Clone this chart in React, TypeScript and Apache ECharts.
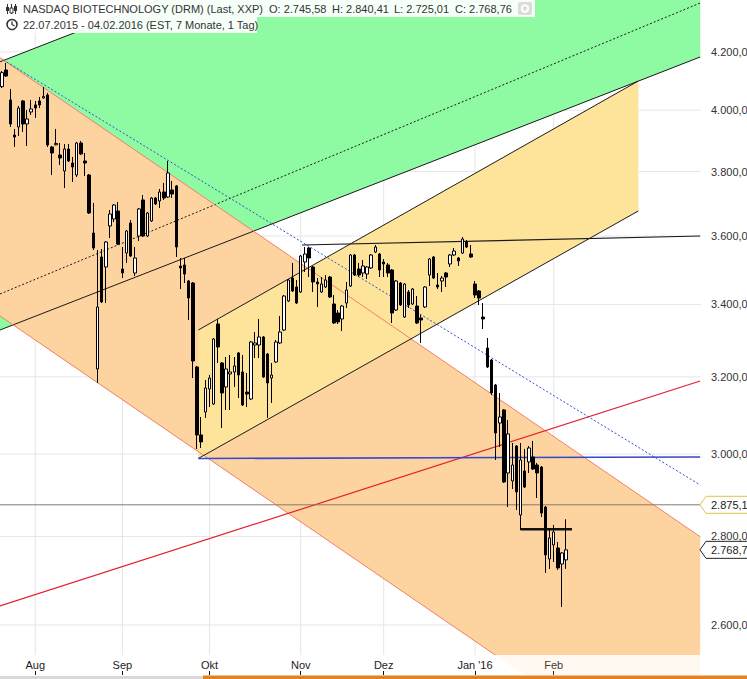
import React, { useEffect, useRef } from "react";
import * as echarts from "echarts";

const FONT = "'Liberation Sans', Arial, Helvetica, sans-serif";

// ---- time axis (trading days) ----
const tradingDays: [string, number[]][] = [
  ["2015-07", [22, 23, 24, 27, 28, 29, 30, 31]],
  ["2015-08", [3, 4, 5, 6, 7, 10, 11, 12, 13, 14, 17, 18, 19, 20, 21, 24, 25, 26, 27, 28, 31]],
  ["2015-09", [1, 2, 3, 4, 8, 9, 10, 11, 14, 15, 16, 17, 18, 21, 22, 23, 24, 25, 28, 29, 30]],
  ["2015-10", [1, 2, 5, 6, 7, 8, 9, 12, 13, 14, 15, 16, 19, 20, 21, 22, 23, 26, 27, 28, 29, 30]],
  ["2015-11", [2, 3, 4, 5, 6, 9, 10, 11, 12, 13, 16, 17, 18, 19, 20, 23, 24, 25, 27, 30]],
  ["2015-12", [1, 2, 3, 4, 7, 8, 9, 10, 11, 14, 15, 16, 17, 18, 21, 22, 23, 24, 28, 29, 30, 31]],
  ["2016-01", [4, 5, 6, 7, 8, 11, 12, 13, 14, 15, 19, 20, 21, 22, 25, 26, 27, 28, 29]],
  ["2016-02", [1, 2, 3, 4]],
];
const futureDays: [string, number[]][] = [
  ["2016-02", [5, 8, 9, 10, 11, 12, 16, 17, 18, 19, 22, 23, 24, 25, 26, 29]],
  ["2016-03", [1, 2, 3, 4, 7, 8, 9, 10, 11, 14, 15, 16, 17, 18, 21, 22]],
];
const monthLabels: [string, string][] = [
  ["2015-08", "Aug"],
  ["2015-09", "Sep"],
  ["2015-10", "Okt"],
  ["2015-11", "Nov"],
  ["2015-12", "Dez"],
  ["2016-01", "Jan '16"],
  ["2016-02", "Feb"],
];

// ---- OHLC ----
const opens = [
  4079.7, 4137.0, 4034.5, 3918.0, 3944.3, 4031.1, 3954.3, 3994.1, 4017.7, 4031.1,
  4041.2, 4051.4, 3878.8, 3886.0, 3852.9, 3801.6, 3872.3, 3827.2, 3788.9, 3891.8,
  3833.6, 3788.9, 3609.4, 3221.2, 3537.6, 3508.2, 3630.7, 3652.0, 3676.5, 3502.3,
  3549.5, 3639.8, 3490.6, 3600.3, 3710.5, 3600.3, 3645.9, 3716.7, 3707.4, 3735.5,
  3719.8, 3741.7, 3754.3, 3511.1, 3514.1, 3467.3, 3461.5, 3226.6, 3048.2, 3107.3,
  3167.6, 3128.2, 3344.8, 3237.4, 3173.0, 3207.8, 3213.1, 3264.6, 3213.1, 3159.7,
  3141.3, 3286.5, 3286.5, 3308.6, 3261.8, 3196.9, 3240.1, 3292.0, 3328.0, 3409.7,
  3476.0, 3450.0, 3435.5, 3522.9, 3564.4, 3508.2, 3464.4, 3435.5, 3450.0, 3478.9,
  3401.2, 3375.7, 3358.8, 3404.0, 3452.9, 3543.6, 3502.3, 3490.6, 3487.7, 3505.3,
  3552.5, 3546.5, 3522.9, 3514.1, 3499.4, 3384.2, 3461.5, 3364.4, 3435.5, 3401.2,
  3395.5, 3361.6, 3392.7, 3484.7, 3537.6, 3455.8, 3467.3, 3490.6, 3517.1, 3543.6,
  3534.7, 3549.5, 3582.3, 3546.5, 3458.6, 3438.4, 3364.4, 3278.2, 3245.5, 3178.3,
  3078.8, 3112.5, 2952.6, 2933.0, 3020.1, 2850.7, 2957.6, 2980.0, 2992.5, 2972.5,
  2967.5, 2869.8, 2747.7, 2780.1, 2773.1, 2736.2, 2745.58,
];
const highs = [
  4133.6, 4161.4, 4071.8, 3937.7, 4014.3, 4034.5, 4000.8, 4034.5, 4031.1, 4044.6,
  4078.6, 4058.2, 3882.1, 3937.7, 3891.8, 3888.4, 3888.4, 3846.5, 3895.1, 3898.3,
  3859.4, 3792.1, 3701.2, 3558.4, 3561.4, 3585.3, 3679.6, 3698.1, 3704.3, 3567.3,
  3618.5, 3648.9, 3567.3, 3685.8, 3726.1, 3673.4, 3719.8, 3719.8, 3744.8, 3763.9,
  3833.6, 3770.0, 3757.4, 3534.7, 3534.7, 3470.2, 3464.4, 3229.3, 3094.4, 3191.6,
  3205.0, 3305.8, 3358.8, 3240.1, 3253.6, 3259.1, 3253.6, 3267.3, 3259.1, 3210.4,
  3297.6, 3322.4, 3358.8, 3311.3, 3264.6, 3237.4, 3300.3, 3367.3, 3426.9, 3473.1,
  3520.0, 3470.2, 3543.6, 3567.3, 3567.3, 3511.1, 3476.0, 3478.9, 3484.7, 3481.8,
  3426.9, 3384.2, 3398.4, 3464.4, 3546.5, 3546.5, 3520.0, 3528.8, 3511.1, 3546.5,
  3573.3, 3549.5, 3531.7, 3520.0, 3502.3, 3470.2, 3464.4, 3461.5, 3441.3, 3447.1,
  3424.0, 3370.1, 3452.9, 3534.7, 3540.6, 3490.6, 3481.8, 3493.5, 3546.5, 3564.4,
  3537.6, 3597.3, 3588.3, 3573.3, 3467.3, 3441.3, 3404.0, 3305.8, 3248.2, 3181.0,
  3157.1, 3115.1, 3086.6, 3027.8, 3022.6, 3027.8, 3012.6, 3020.1, 3032.9, 2977.5,
  2970.0, 2872.2, 2817.5, 2827.0, 2787.0, 2763.8, 2840.41,
];
const lows = [
  4075.2, 4112.9, 3944.3, 3878.8, 3914.7, 3927.8, 3882.1, 3984.1, 3974.1, 4007.5,
  4039.0, 3878.8, 3788.9, 3884.0, 3820.8, 3748.0, 3830.4, 3766.8, 3782.6, 3852.9,
  3785.7, 3667.3, 3558.4, 3183.6, 3404.0, 3404.0, 3594.3, 3642.8, 3573.3, 3476.0,
  3520.0, 3537.6, 3481.8, 3585.3, 3597.3, 3597.3, 3642.8, 3695.0, 3685.8, 3710.5,
  3716.7, 3716.7, 3537.6, 3444.2, 3461.5, 3356.0, 3196.9, 3012.6, 3015.1, 3091.8,
  3120.3, 3125.6, 3237.4, 3066.0, 3112.5, 3112.5, 3173.0, 3143.9, 3122.9, 3120.3,
  3138.7, 3250.9, 3250.9, 3196.9, 3091.8, 3130.8, 3237.4, 3289.3, 3325.2, 3406.9,
  3435.5, 3401.2, 3432.7, 3493.5, 3478.9, 3435.5, 3392.7, 3432.7, 3447.1, 3418.3,
  3345.0, 3344.8, 3325.2, 3389.9, 3450.0, 3481.8, 3478.9, 3478.9, 3473.1, 3502.3,
  3549.5, 3478.9, 3478.9, 3478.9, 3347.6, 3381.4, 3395.5, 3361.6, 3389.9, 3398.4,
  3344.8, 3292.0, 3389.9, 3452.9, 3473.1, 3444.2, 3435.5, 3450.0, 3508.2, 3540.6,
  3511.1, 3546.5, 3564.4, 3535.0, 3418.3, 3398.4, 3330.8, 3223.9, 3151.7, 2985.0,
  3017.6, 2928.1, 2869.8, 2913.4, 2862.7, 2815.2, 2915.8, 2952.6, 2960.1, 2891.5,
  2845.9, 2715.7, 2724.8, 2740.8, 2722.5, 2639.5, 2725.01,
];
const closes = [
  4127.7, 4116.3, 3954.3, 3911.4, 4007.5, 3954.3, 3970.8, 4004.2, 4007.5, 4017.7,
  4046.0, 3885.3, 3859.4, 3890.0, 3843.3, 3872.3, 3833.6, 3814.4, 3891.8, 3856.2,
  3827.2, 3670.4, 3564.4, 3392.7, 3406.9, 3582.3, 3667.3, 3695.0, 3576.3, 3490.6,
  3615.5, 3540.6, 3534.7, 3682.7, 3600.3, 3670.4, 3716.7, 3698.1, 3735.5, 3716.7,
  3795.3, 3729.2, 3567.3, 3505.3, 3487.7, 3418.3, 3242.8, 3048.2, 3030.4, 3170.3,
  3196.9, 3303.1, 3281.0, 3157.1, 3221.2, 3213.1, 3229.3, 3205.0, 3125.6, 3154.4,
  3294.8, 3292.0, 3308.6, 3199.6, 3183.6, 3205.0, 3294.8, 3322.4, 3424.0, 3470.2,
  3438.4, 3404.0, 3540.6, 3546.5, 3534.7, 3464.4, 3458.6, 3458.6, 3470.2, 3421.1,
  3347.6, 3350.4, 3395.5, 3441.3, 3543.6, 3484.7, 3484.7, 3511.1, 3508.2, 3543.6,
  3567.3, 3499.4, 3517.1, 3490.6, 3375.7, 3467.3, 3398.4, 3458.6, 3398.4, 3444.2,
  3347.6, 3356.0, 3450.0, 3531.7, 3476.0, 3450.0, 3476.0, 3478.9, 3543.6, 3555.4,
  3525.8, 3591.3, 3567.3, 3537.6, 3426.9, 3418.3, 3358.8, 3226.6, 3157.1, 3053.3,
  3094.4, 2930.5, 3050.8, 2972.5, 2906.2, 2985.0, 2918.2, 3015.1, 2962.6, 2952.6,
  2855.5, 2756.9, 2796.4, 2810.5, 2727.1, 2761.5, 2768.76,
];

// ---- price scale ----
const priceLevels = [2600, 2800, 3000, 3200, 3400, 3600, 3800, 4000, 4200];
const yMin = 2535.5;
const yMax = 4386.5;
const refLevel = 2875.1;

// ---- drawing tools: [startIndex, startPrice, endIndex, endPrice] ----
const greenUpper = [-0.5, 4165.4, 168.3, 5234.5];
const greenLower = [-0.5, 3328.0, 168.3, 4182.2];
const greenDotted = [-0.5, 3429.8, 168.3, 4375.5];
const orangeUpper = [-0.5, 4179.7, 168.3, 2799.4];
const orangeLower = [-0.5, 3367.5, 168.3, 2254.6];
const yellowUpper = [47.31, 3328.0, 153.38, 4099.0];
const yellowLower = [47.31, 2988.7, 153.38, 3676.5];
const blueDotted = [0.3, 4171.9, 168.3, 2923.2];
const blueLevel = [47.31, 2988.7, 168.3, 2992.5];
const blackLevel = [72.31, 3573.3, 168.3, 3600.4];
const redTrend = [-0.5, 2641.7, 168.3, 3189.0];
const supportSegment = [125, 2816.8, 137.4, 2816.8];

// ---- derived ----
const categories: string[] = [...tradingDays, ...futureDays].flatMap(([m, ds]) =>
  ds.map((d) => `${m}-${String(d).padStart(2, "0")}`)
);
const nData = opens.length;
const labelByIndex = new Map<number, string>();
monthLabels.forEach(([m, lab]) => {
  const i = categories.findIndex((c) => c.startsWith(m));
  if (i >= 0 && i < nData) labelByIndex.set(i, lab);
});
const monthStarts = Array.from(labelByIndex.keys());
const candleData = opens.map((o, i) => [o, closes[i], lows[i], highs[i]]);
const last = nData - 1;

function fmt(v: number): string {
  const [ip, dp] = v.toFixed(2).split(".");
  return ip.replace(/\B(?=(\d{3})+(?!\d))/g, ".") + "," + dp;
}

type Pt = [number, number];
type Rect = { x: number; y: number; w: number; h: number };

function clipPoly(pts: Pt[], r: Rect): Pt[] {
  const bounds: [number, number, boolean][] = [
    [0, r.x, true],
    [0, r.x + r.w, false],
    [1, r.y, true],
    [1, r.y + r.h, false],
  ];
  let out = pts;
  for (const [ax, val, ge] of bounds) {
    const src = out;
    out = [];
    if (!src.length) break;
    for (let k = 0; k < src.length; k++) {
      const a = src[k];
      const b = src[(k + 1) % src.length];
      const ia = ge ? a[ax] >= val : a[ax] <= val;
      const ib = ge ? b[ax] >= val : b[ax] <= val;
      if (ia) out.push(a);
      if (ia !== ib) {
        const t = (val - a[ax]) / (b[ax] - a[ax]);
        out.push([a[0] + t * (b[0] - a[0]), a[1] + t * (b[1] - a[1])]);
      }
    }
  }
  return out;
}

function clipSeg(a: Pt, b: Pt, r: Rect): [Pt, Pt] | null {
  let t0 = 0;
  let t1 = 1;
  const dx = b[0] - a[0];
  const dy = b[1] - a[1];
  const p = [-dx, dx, -dy, dy];
  const q = [a[0] - r.x, r.x + r.w - a[0], a[1] - r.y, r.y + r.h - a[1]];
  for (let k = 0; k < 4; k++) {
    if (p[k] === 0) {
      if (q[k] < 0) return null;
    } else {
      const t = q[k] / p[k];
      if (p[k] < 0) {
        if (t > t1) return null;
        if (t > t0) t0 = t;
      } else {
        if (t < t0) return null;
        if (t < t1) t1 = t;
      }
    }
  }
  return [
    [a[0] + t0 * dx, a[1] + t0 * dy],
    [a[0] + t1 * dx, a[1] + t1 * dy],
  ];
}

function backgroundRender(params: any, api: any) {
  const cs = params.coordSys;
  const plot: Rect = { x: cs.x, y: cs.y, w: cs.width, h: cs.height };
  const outer: Rect = { x: 0, y: 0, w: 747, h: cs.y + cs.height + 20 };
  const P = (i: number, v: number): Pt => api.coord([i, v]) as Pt;
  const children: any[] = [];

  priceLevels.forEach((v) => {
    const y = P(0, v)[1];
    children.push({
      type: "line",
      shape: { x1: plot.x, y1: y, x2: plot.x + plot.w, y2: y },
      style: { stroke: "#e6e6e6", lineWidth: 1 },
    });
  });
  monthStarts.forEach((i) => {
    const x = P(i, 3000)[0];
    children.push({
      type: "line",
      shape: { x1: x, y1: plot.y, x2: x, y2: plot.y + plot.h },
      style: { stroke: "#e6e6e6", lineWidth: 1 },
    });
  });

  const bands: [number[], number[], string][] = [
    [greenUpper, greenLower, "#8efaa2"],
    [orangeUpper, orangeLower, "#fdd3a0"],
    [yellowUpper, yellowLower, "#fee49b"],
  ];
  const bandPts = (u: number[], l: number[]): Pt[] => [
    P(u[0], u[1]),
    P(u[2], u[3]),
    P(l[2], l[3]),
    P(l[0], l[1]),
  ];
  bands.forEach(([u, l, c]) => {
    const pts = clipPoly(bandPts(u, l), outer);
    if (pts.length > 2)
      children.push({ type: "polygon", shape: { points: pts }, style: { fill: c, opacity: 0.14 } });
  });
  bands.forEach(([u, l, c]) => {
    const pts = clipPoly(bandPts(u, l), plot);
    if (pts.length > 2) children.push({ type: "polygon", shape: { points: pts }, style: { fill: c } });
  });

  const lines: [number[], string, number, number[] | null][] = [
    [greenUpper, "#1a1a1a", 1, null],
    [greenLower, "#1a1a1a", 1, null],
    [greenDotted, "#1a1a1a", 1, [2, 2]],
    [orangeUpper, "#f0806a", 1, null],
    [orangeLower, "#f0806a", 1, null],
    [yellowUpper, "#1a1a1a", 1, null],
    [yellowLower, "#1a1a1a", 1, null],
    [redTrend, "#e3202c", 1.2, null],
    [blueDotted, "#2f50d6", 1, [2, 2]],
    [blueLevel, "#3347d0", 1.6, null],
    [blackLevel, "#1a1a1a", 1.2, null],
    [[-0.5, refLevel, 168.3, refLevel], "#86796c", 1, null],
    [supportSegment, "#111111", 2.5, null],
  ];
  lines.forEach(([s, color, w, dash]) => {
    const seg = clipSeg(P(s[0], s[1]), P(s[2], s[3]), plot);
    if (!seg) return;
    children.push({
      type: "line",
      shape: { x1: seg[0][0], y1: seg[0][1], x2: seg[1][0], y2: seg[1][1] },
      style: { stroke: color, lineWidth: w, lineDash: dash || undefined },
    });
  });

  return { type: "group", children };
}

function foregroundRender(params: any, api: any) {
  const cs = params.coordSys;
  const right = cs.x + cs.width;
  const P = (i: number, v: number): Pt => api.coord([i, v]) as Pt;
  const children: any[] = [];
  const font = `11px ${FONT}`;
  priceLevels.forEach((v) => {
    const y = P(0, v)[1];
    children.push({
      type: "text",
      x: right + 10,
      y,
      style: {
        text: fmt(v),
        fill: "#333333",
        font,
        align: "left",
        verticalAlign: "middle",
        textAlign: "left",
        textVerticalAlign: "middle",
      },
    });
  });
  const tag = (price: number, border: string) => {
    const y = P(0, price)[1];
    const x0 = right - 1;
    children.push({
      type: "polygon",
      shape: {
        points: [
          [x0, y],
          [x0 + 6, y - 8.5],
          [760, y - 8.5],
          [760, y + 8.5],
          [x0 + 6, y + 8.5],
        ],
      },
      style: { fill: "#ffffff", stroke: border, lineWidth: 1 },
    });
    children.push({
      type: "text",
      x: x0 + 11,
      y,
      style: {
        text: fmt(price),
        fill: "#222222",
        font,
        align: "left",
        verticalAlign: "middle",
        textAlign: "left",
        textVerticalAlign: "middle",
      },
    });
  };
  tag(refLevel, "#e2c248");
  tag(closes[last], "#222222");
  return { type: "group", children };
}

export default function App() {
  const ref = useRef<HTMLDivElement>(null);
  useEffect(() => {
    const el = ref.current;
    if (!el) return;
    const chart = echarts.init(el, null, { renderer: "svg" });
    const hdrFont = `11px ${FONT}`;
    const txt = (x: number, y: number, text: string) => ({
      type: "text",
      x,
      y,
      z: 101,
      style: {
        text,
        fill: "#333333",
        font: hdrFont,
        verticalAlign: "middle",
        textVerticalAlign: "middle",
      },
    });
    chart.setOption({
      animation: false,
      textStyle: { fontFamily: FONT },
      grid: { left: 0, top: 0, width: 701, height: 655, containLabel: false },
      xAxis: [
        {
          type: "category",
          data: categories,
          boundaryGap: true,
          axisLine: { show: false },
          axisTick: { show: false },
          splitLine: { show: false },
          axisLabel: {
            interval: (i: number) => labelByIndex.has(i),
            formatter: (_v: string, i: number) => labelByIndex.get(i) || "",
            color: "#222222",
            fontSize: 11,
            fontFamily: FONT,
            margin: 4,
          },
        },
        {
          type: "category",
          data: categories,
          boundaryGap: true,
          position: "bottom",
          offset: 20,
          axisLine: { show: false },
          axisLabel: { show: false },
          splitLine: { show: false },
          axisTick: {
            show: true,
            inside: true,
            length: 4,
            alignWithLabel: true,
            interval: (i: number) => labelByIndex.has(i),
            lineStyle: { color: "#111111", width: 1 },
          },
        },
        { type: "value", min: -0.5, max: categories.length - 0.5, show: false },
      ],
      yAxis: [
        {
          type: "log",
          logBase: 10,
          min: yMin,
          max: yMax,
          position: "right",
          show: false,
          splitLine: { show: false },
        },
      ],
      series: [
        {
          type: "custom",
          xAxisIndex: 2,
          yAxisIndex: 0,
          z: 1,
          silent: true,
          data: [[0, 3000]],
          renderItem: backgroundRender,
        },
        {
          type: "candlestick",
          xAxisIndex: 0,
          yAxisIndex: 0,
          z: 3,
          silent: true,
          barWidth: 3,
          data: candleData,
          itemStyle: {
            color: "#ffffff",
            color0: "#000000",
            borderColor: "#000000",
            borderColor0: "#000000",
            borderColorDoji: "#000000",
            borderWidth: 1,
          },
        },
        {
          type: "custom",
          xAxisIndex: 2,
          yAxisIndex: 0,
          z: 4,
          silent: true,
          data: [[0, 3000]],
          renderItem: foregroundRender,
        },
      ],
      graphic: [
        { type: "rect", z: 100, shape: { x: 0, y: 0, width: 535, height: 17 }, style: { fill: "rgba(255,255,255,0.93)" } },
        { type: "rect", z: 100, shape: { x: 0, y: 17, width: 257, height: 16 }, style: { fill: "rgba(255,255,255,0.93)" } },
        // candle icon
        { type: "line", z: 101, shape: { x1: 7.5, y1: 4, x2: 7.5, y2: 14 }, style: { stroke: "#333", lineWidth: 1 } },
        { type: "rect", z: 101, shape: { x: 6, y: 7, width: 3, height: 4 }, style: { fill: "#333" } },
        { type: "line", z: 101, shape: { x1: 11.5, y1: 4, x2: 11.5, y2: 14 }, style: { stroke: "#333", lineWidth: 1 } },
        { type: "rect", z: 101, shape: { x: 10, y: 8, width: 3, height: 5 }, style: { fill: "#fff", stroke: "#333", lineWidth: 1 } },
        { type: "line", z: 101, shape: { x1: 15.5, y1: 4, x2: 15.5, y2: 14 }, style: { stroke: "#333", lineWidth: 1 } },
        { type: "rect", z: 101, shape: { x: 14, y: 6, width: 3, height: 5 }, style: { fill: "#333" } },
        // clock icon
        { type: "circle", z: 101, shape: { cx: 12, cy: 24.5, r: 5 }, style: { fill: "none", stroke: "#333", lineWidth: 1.6 } },
        { type: "polyline", z: 101, shape: { points: [[12, 21.5], [12, 24.5], [14.5, 26]] }, style: { fill: "none", stroke: "#333", lineWidth: 1.3 } },
        // settings icon
        { type: "rect", z: 101, shape: { x: 518, y: 2, width: 14, height: 13, r: 2 }, style: { fill: "#dcdcdc" } },
        { type: "circle", z: 102, shape: { cx: 525, cy: 8.5, r: 3.2 }, style: { fill: "none", stroke: "#ffffff", lineWidth: 2 } },
        txt(23, 9, "NASDAQ BIOTECHNOLOGY (DRM) (Last, XXP)"),
        txt(269, 9, `O: ${fmt(opens[last])}`),
        txt(332, 9, `H: ${fmt(highs[last])}`),
        txt(394, 9, `L: ${fmt(lows[last])}`),
        txt(455, 9, `C: ${fmt(closes[last])}`),
        txt(23, 24.5, "22.07.2015 - 04.02.2016 (EST, 7 Monate, 1 Tag)"),
        // navigator bar
        { type: "rect", z: 100, shape: { x: 0, y: 676, width: 203, height: 3 }, style: { fill: "#d9d9d9" } },
        { type: "rect", z: 100, shape: { x: 203, y: 675.5, width: 544, height: 3.5 }, style: { fill: "#e3821f" } },
      ],
    });
    return () => chart.dispose();
  }, []);
  return (
    <div
      ref={ref}
      style={{ position: "fixed", left: 0, top: 0, width: 747, height: 679, background: "#ffffff" }}
    />
  );
}
